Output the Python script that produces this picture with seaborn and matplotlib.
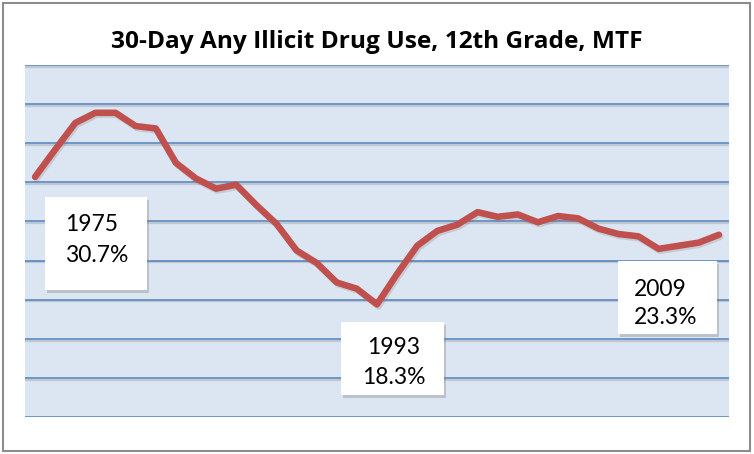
import matplotlib
matplotlib.use("Agg")
import matplotlib.pyplot as plt
import seaborn as sns
import pandas as pd
from matplotlib.patches import Rectangle

years = list(range(1975, 2010))
values = [30.7, 34.2, 37.6, 38.9, 38.9, 37.2, 36.9, 32.5, 30.5, 29.2,
          29.7, 27.1, 24.7, 21.3, 19.7, 17.2, 16.4, 14.4, 18.3, 21.9,
          23.8, 24.6, 26.2, 25.6, 25.9, 24.9, 25.7, 25.4, 24.1, 23.4,
          23.1, 21.5, 21.9, 22.3, 23.3]
y_ticks = [0, 5, 10, 15, 20, 25, 30, 35, 40, 45]
title = "30-Day Any Illicit Drug Use, 12th Grade, MTF"
label_years = [1975, 1993, 2009]

df = pd.DataFrame({"year": years, "value": values})

sns.set_theme(style="white")
plt.rcParams['font.family'] = ['Lato', 'DejaVu Sans']

W, H = 754, 454
fig = plt.figure(figsize=(W / 100, H / 100), dpi=100)

def fx(x):
    return x / W

def fy(y):
    return 1 - y / H

# figure border
fig.patches.append(Rectangle((fx(3), fy(451)), fx(747), 448 / H, transform=fig.transFigure,
                             fill=False, edgecolor="#8c8c8c", linewidth=1.5, zorder=0))

ax = fig.add_axes([fx(25), fy(417), fx(729 - 25), (417 - 65) / H])
ax.set_facecolor("#DCE6F2")

for yv in y_ticks:
    ax.axhline(yv - 0.22, color="#9aa3ad", lw=1.6, alpha=0.45, zorder=1)
    ax.axhline(yv, color="#4F81BD", lw=1.1, zorder=2)

# line shadow
sns.lineplot(data=df, x="year", y="value", ax=ax, color="#7a6a6a", lw=4.7, alpha=0.22,
             zorder=3, legend=False)
ax.lines[-1].set_transform(ax.transData + matplotlib.transforms.ScaledTranslation(1.5/100, -2/100, fig.dpi_scale_trans))
sns.lineplot(data=df, x="year", y="value", ax=ax, color="#C0504D", lw=4.7, zorder=4,
             legend=False, solid_joinstyle="round", solid_capstyle="round")

ax.set_xlim(years[0] - 0.5, years[-1] + 0.5)
ax.set_ylim(y_ticks[0], y_ticks[-1] + 0.01)
ax.set_xticks([])
ax.set_yticks([])
ax.set_xlabel("")
ax.set_ylabel("")
for s in ax.spines.values():
    s.set_visible(False)

fig.text(fx(377), fy(42), title, ha="center", va="center", fontsize=17.6, fontweight="bold",
         color="black", family=["Open Sans", "DejaVu Sans"])

# label boxes: (x0, y0, x1, y1), text x, line ys, alignment
boxes = [
    ((45, 197, 147, 290), 65, (224, 255), "left"),
    ((341, 322, 444, 395), 394, (348, 378), "center"),
    ((618, 261, 717, 334), 634, (289, 318), "left"),
]
for (b, tx, (l1, l2), ha), yr in zip(boxes, label_years):
    x0, y0, x1, y1 = b
    fig.patches.append(Rectangle((fx(x0 + 2), fy(y1 + 3)), (x1 - x0) / W, (y1 - y0) / H,
                                 transform=fig.transFigure, facecolor="#7f7f7f", alpha=0.35,
                                 edgecolor="none", zorder=5))
    fig.patches.append(Rectangle((fx(x0), fy(y1)), (x1 - x0) / W, (y1 - y0) / H,
                                 transform=fig.transFigure, facecolor="white",
                                 edgecolor="none", zorder=6))
    val = values[years.index(yr)]
    fig.text(fx(tx), fy(l1), f"{yr}", ha=ha, va="center", fontsize=16.5, color="black", zorder=7)
    fig.text(fx(tx), fy(l2), f"{val}%", ha=ha, va="center", fontsize=16.5, color="black", zorder=7)

fig.savefig("out.png", dpi=100, facecolor="white")
